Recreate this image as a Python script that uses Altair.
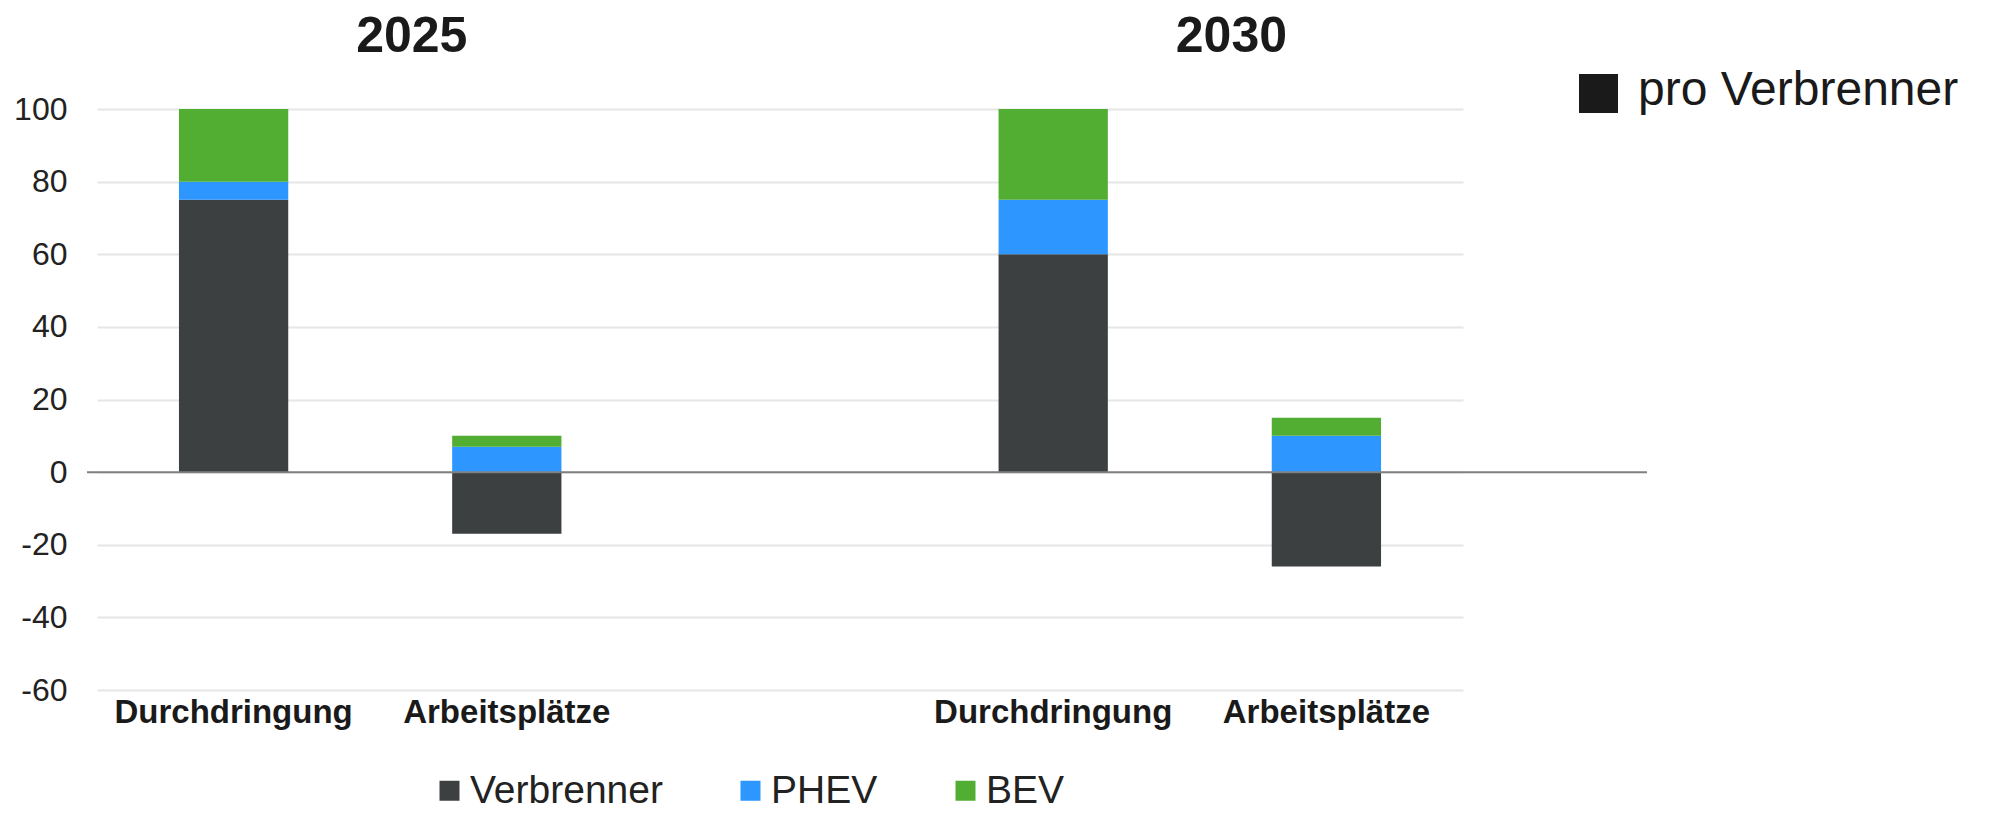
import altair as alt
import pandas as pd

# ---- data ----
groups = ["2025|Durchdringung", "2025|Arbeitsplätze", "2030|Durchdringung", "2030|Arbeitsplätze"]
x_domain = ["2025|Durchdringung", "2025|Arbeitsplätze", "gap| ", "2030|Durchdringung", "2030|Arbeitsplätze"]
series = ["Verbrenner", "PHEV", "BEV"]
verbrenner = [75, -17, 60, -26]
phev = [5, 7, 15, 10]
bev = [20, 3, 25, 5]
colors = ["#3c4040", "#2d96ff", "#52ad33"]
years = ["2025", "2030"]
year_anchor = ["2025|Arbeitsplätze", "2030|Arbeitsplätze"]
y_ticks = [-60, -40, -20, 0, 20, 40, 60, 80, 100]
side_label = ["pro Verbrenner"]

rows = []
for i, g in enumerate(groups):
    for j, (s, vals) in enumerate(zip(series, [verbrenner, phev, bev])):
        rows.append({"group": g, "series": s, "order": j, "value": vals[i]})
df = pd.DataFrame(rows)

FONT = "Liberation Sans"

x = alt.X(
    "group:N",
    scale=alt.Scale(domain=x_domain, paddingInner=0.6, paddingOuter=0.3),
    axis=alt.Axis(
        title=None, labelExpr="split(datum.value, '|')[1]", labelFontSize=33,
        labelFontWeight="bold", labelColor="#1a1a1a", labelPadding=6, domain=False,
        ticks=False, labelAngle=0, grid=False, labelFont=FONT, labelLimit=500,
    ),
)
y = alt.Y(
    "value:Q",
    stack="zero",
    scale=alt.Scale(domain=[-60, 100], nice=False),
    axis=alt.Axis(
        title=None, values=y_ticks, labelExpr="'' + datum.value", labelFontSize=32,
        labelColor="#222222", labelPadding=30, domain=False, ticks=False, grid=True,
        gridColor="#e6e6e6", gridWidth=2, labelFont=FONT,
    ),
)

bars = alt.Chart(df).mark_bar(strokeWidth=0).encode(
    x=x,
    y=y,
    color=alt.Color(
        "series:N",
        scale=alt.Scale(domain=series, range=colors),
        legend=alt.Legend(
            title=None, orient="none", legendX=333, legendY=662, direction="horizontal",
            symbolType="square", symbolSize=400, symbolStrokeWidth=0, labelFontSize=39,
            labelFont=FONT, labelColor="#222222", labelOffset=1, columnPadding=68,
            padding=0, labelLimit=500,
        ),
    ),
    order=alt.Order("order:Q"),
)

zero = alt.Chart(pd.DataFrame({"z": [0]})).mark_rule(color="#808080", strokeWidth=2).encode(
    y=alt.Y(datum=0),
    x=alt.value(-10),
    x2=alt.value(1550),
)

titles = alt.Chart(pd.DataFrame({"year": years, "group": year_anchor})).mark_text(
    fontSize=50, fontWeight="bold", font=FONT, color="#1a1a1a", dx=-95, baseline="alphabetic"
).encode(x=alt.X("group:N"), y=alt.value(-57), text="year:N")

pro_sq = alt.Chart(pd.DataFrame({"label": side_label})).mark_square(
    size=1521, color="#1a1a1a", opacity=1, filled=True
).encode(x=alt.value(1501.5), y=alt.value(-15.6))

pro_tx = alt.Chart(pd.DataFrame({"label": side_label})).mark_text(
    align="left", baseline="alphabetic", fontSize=48, font=FONT, color="#1a1a1a"
).encode(x=alt.value(1541), y=alt.value(-4), text="label:N")

chart = alt.layer(bars, zero, titles, pro_sq, pro_tx).properties(
    width=1366,
    height=581,
    autosize=alt.AutoSizeParams(type="none"),
    padding={"left": 89, "top": 101, "right": 522, "bottom": 121},
).configure_view(strokeWidth=0)

chart.save("out.html", embed_options={"renderer": "svg", "actions": False})
